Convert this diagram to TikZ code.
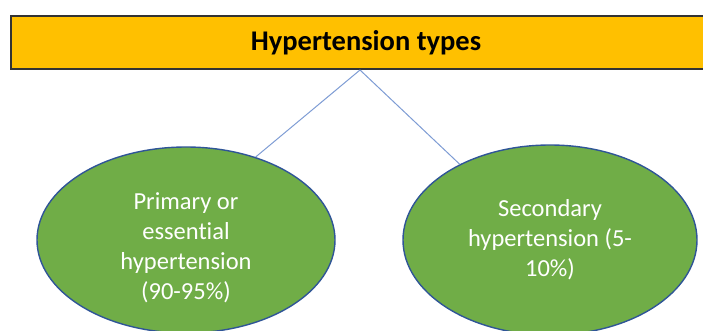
\documentclass[tikz,border=0pt]{standalone}
\usepackage{fontspec}
\setmainfont{Carlito}[Ligatures=NoCommon]
\usetikzlibrary{shapes.geometric}
\definecolor{baryellow}{HTML}{FFC000}
\definecolor{ovalgreen}{HTML}{70AD47}
\definecolor{ovalblue}{HTML}{2F5597}
\definecolor{linkblue}{HTML}{7E9CD4}

\begin{document}
\begin{tikzpicture}[x=1pt,y=-1pt,
    titlebar/.style={draw=black!80,line width=2pt,fill=baryellow,rectangle,
      minimum width=698pt,minimum height=53pt,inner sep=0pt,
      font=\fontsize{28.5}{34}\selectfont\bfseries},
    oval/.style={draw=ovalblue,line width=1.4pt,fill=ovalgreen,ellipse,
      inner sep=0pt},
    ovaltext/.style={text=white,align=center,
      font=\fontsize{24.5}{30}\selectfont},
    link/.style={draw=linkblue,line width=1pt}]
    \useasboundingbox (0,0) rectangle (703,331);

    \node[titlebar] (types) at (360,42.5) {\hspace*{12pt}Hypertension types};

    \node[oval,minimum width=298pt,minimum height=186pt] (prim) at (186,240) {};
    \node[oval,minimum width=294pt,minimum height=190pt] (sec) at (550,240) {};

    \node[ovaltext] (primtext) at (186,248) {Primary or\\essential\\hypertension\\(90-95\%)};
    \node[ovaltext] (sectext) at (550,240) {Secondary\\hypertension (5-\\10\%)};

    \draw[link] (types.south) -- (prim.50);
    \draw[link] (types.south) -- (sec.140);
\end{tikzpicture}
\end{document}
